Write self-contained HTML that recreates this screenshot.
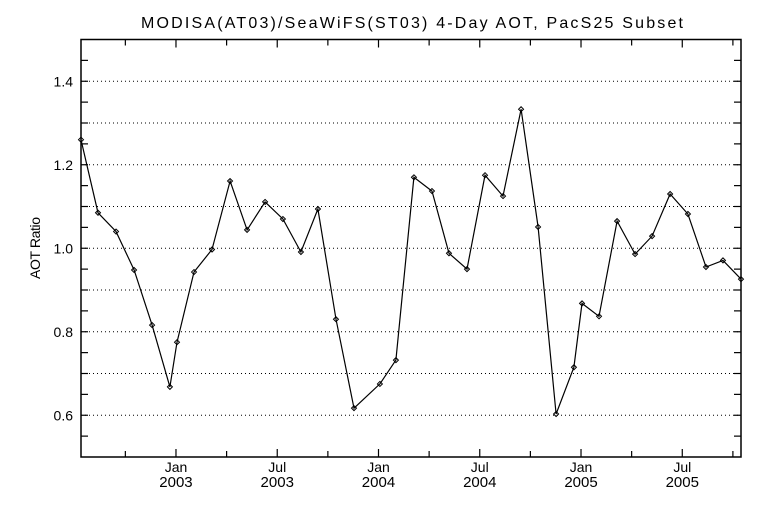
<!DOCTYPE html>
<html><head><meta charset="utf-8"><style>
html,body{margin:0;padding:0;background:#fff;}
svg text{font-family:"Liberation Sans",sans-serif;fill:#000;}
</style></head><body>
<svg width="768" height="512" viewBox="0 0 768 512">
<text x="141" y="28" font-size="16" textLength="542" lengthAdjust="spacing">MODISA(AT03)/SeaWiFS(ST03) 4-Day AOT, PacS25 Subset</text>
<text transform="translate(40,248) rotate(-90)" font-size="14" text-anchor="middle" textLength="62">AOT Ratio</text>
<g id="grid"></g><g id="axes"></g><g id="series"></g>
<rect x="81" y="39.5" width="660" height="417.5" fill="none" stroke="#000" stroke-width="1.5"/>
</svg>
<script>
const dates=[2002.531,2002.615,2002.704,2002.793,2002.882,2002.970,2003.005,2003.089,2003.178,2003.267,2003.351,2003.440,2003.528,2003.617,2003.701,2003.790,2003.879,2004.007,2004.086,2004.175,2004.264,2004.348,2004.437,2004.526,2004.615,2004.704,2004.788,2004.877,2004.965,2005.005,2005.089,2005.178,2005.267,2005.351,2005.440,2005.528,2005.617,2005.701,2005.790];
const ratios=[1.26,1.085,1.04,0.948,0.816,0.668,0.775,0.943,0.997,1.161,1.044,1.111,1.07,0.991,1.094,0.83,0.617,0.675,0.732,1.17,1.137,0.988,0.95,1.175,1.125,1.333,1.051,0.603,0.715,0.868,0.837,1.065,0.986,1.029,1.13,1.082,0.955,0.971,0.926];
const yLabels=["0.6","0.8","1.0","1.2","1.4"];
const xMonths=["Jan","Jul","Jan","Jul","Jan","Jul"];
const xYears=["2003","2003","2004","2004","2005","2005"];
const L=81,R=741,T=39.5,B=457;
const X0=2002.531,X1=2005.79;
const xs=t=>L+(t-X0)/(X1-X0)*(R-L);
const ys=v=>B-(v-0.5)/(1.0)*(B-T);
const NS='http://www.w3.org/2000/svg';
function mk(tag,attrs,parent){const e=document.createElementNS(NS,tag);for(const k in attrs)e.setAttribute(k,attrs[k]);parent.appendChild(e);return e;}
const grid=document.getElementById('grid'),axes=document.getElementById('axes'),ser=document.getElementById('series');
for(let i=1;i<10;i++){const v=0.5+i*0.1;const y=ys(v);
 const g=mk('line',{x1:L,x2:R,y1:y,y2:y,stroke:'#000','stroke-width':1,'stroke-dasharray':'1 3'},grid);
 
 }
for(let i=1;i<20;i++){const y=ys(0.5+i*0.05);
 const a=mk('line',{x1:L,x2:L+7,y1:y,y2:y,stroke:'#000','stroke-width':1.2},axes);
 
 
 const b=mk('line',{x1:R-7,x2:R,y1:y,y2:y,stroke:'#000','stroke-width':1.2},axes);
 
 }
yLabels.forEach(s=>{const t=mk('text',{x:L-8,y:ys(parseFloat(s))+5,'font-size':14,'text-anchor':'end'},axes);t.textContent=s;
 
 });
for(let q=0;q<14;q++){const t=2002.75+q*0.25;const x=xs(t);if(x<L||x>R)continue;const major=(q%2===1);const len=major?8:6;
 const a=mk('line',{x1:x,x2:x,y1:B,y2:B-len,stroke:'#000','stroke-width':1.2},axes);
 
 
 const b=mk('line',{x1:x,x2:x,y1:T,y2:T+len,stroke:'#000','stroke-width':1.2},axes);
 
 }
xMonths.forEach((m,i)=>{const x=xs(2003+i*0.5);
 const a=mk('text',{x:x,y:472,'font-size':14,'text-anchor':'middle'},axes);a.textContent=m;
 
 
 const b=mk('text',{x:x,y:487,'font-size':15,'text-anchor':'middle'},axes);b.textContent=xYears[i];
 
 });
const pts=dates.map((d,i)=>xs(d).toFixed(1)+','+ys(ratios[i]).toFixed(1)).join(' ');
const pl=mk('polyline',{points:pts,fill:'none',stroke:'#000','stroke-width':1.2},ser);


dates.forEach((d,i)=>{const x=xs(d),y=ys(ratios[i]);
 const p=mk('path',{d:`M${x-2.5},${y}L${x},${y-2.5}L${x+2.5},${y}L${x},${y+2.5}Z`,fill:'none',stroke:'#000','stroke-width':1},ser);
 
 });
</script>
</body></html>
